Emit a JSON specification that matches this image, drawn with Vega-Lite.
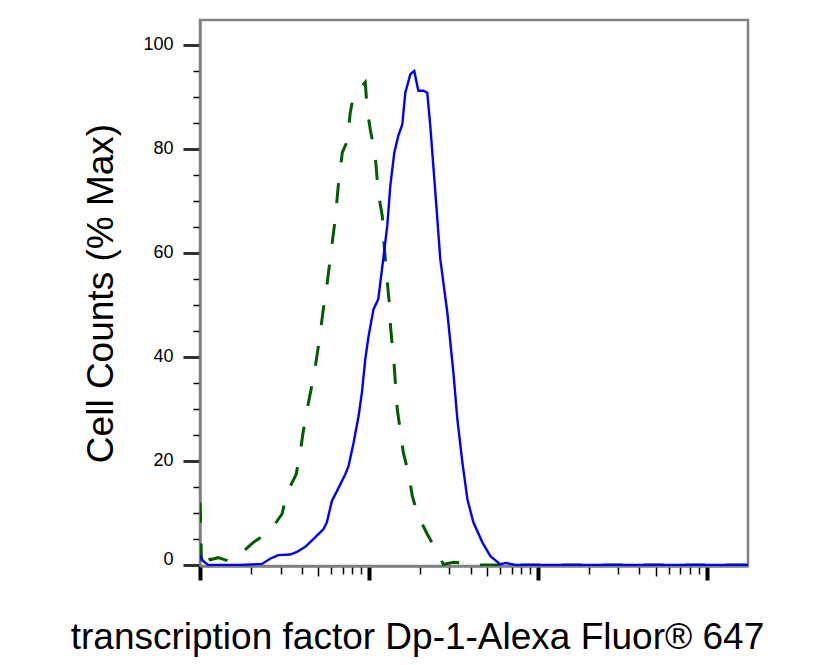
{
  "$schema": "https://vega.github.io/schema/vega-lite/v6.json",
  "width": 548,
  "height": 546,
  "autosize": {"type": "none"},
  "padding": {"left": 200, "top": 20, "right": 76, "bottom": 99},
  "background": "white",
  "config": {
    "font": "Liberation Sans",
    "view": {"stroke": "#808080", "strokeWidth": 2.5},
    "axis": {
      "grid": false,
      "domainColor": "#808080",
      "domainWidth": 2.5,
      "titleFontWeight": "normal",
      "titleColor": "black",
      "titleFont": "Liberation Sans",
      "labelFont": "Liberation Sans",
      "labelColor": "black"
    }
  },
  "datasets": {
    "isotype": [
      {"x": 100, "y": 12}, {"x": 101, "y": 7}, {"x": 102, "y": 0.8}, {"x": 105.6, "y": 3.2},
      {"x": 110, "y": 2}, {"x": 115, "y": 1.0}, {"x": 128, "y": 1.4}, {"x": 147, "y": 0.8},
      {"x": 168, "y": 1.7}, {"x": 206, "y": 4.3}, {"x": 260, "y": 6.5}, {"x": 306, "y": 9.8},
      {"x": 328, "y": 13.9}, {"x": 371, "y": 17.4}, {"x": 392, "y": 21.6}, {"x": 408, "y": 25.5},
      {"x": 431, "y": 29.9}, {"x": 455, "y": 33.8}, {"x": 481, "y": 38}, {"x": 501, "y": 41.8},
      {"x": 522, "y": 46}, {"x": 539, "y": 49.5}, {"x": 567, "y": 54.3}, {"x": 607, "y": 62},
      {"x": 632, "y": 66.5}, {"x": 659, "y": 72.9}, {"x": 696, "y": 79.3}, {"x": 745, "y": 81.5},
      {"x": 776, "y": 87}, {"x": 808, "y": 89.9}, {"x": 865, "y": 91.2}, {"x": 952, "y": 92.8},
      {"x": 978, "y": 87.6}, {"x": 1019, "y": 83.8}, {"x": 1091, "y": 78.7}, {"x": 1137, "y": 71.6},
      {"x": 1201, "y": 67.1}, {"x": 1226, "y": 62.3}, {"x": 1252, "y": 58.8}, {"x": 1286, "y": 54.3},
      {"x": 1321, "y": 50.5}, {"x": 1340, "y": 46.3}, {"x": 1377, "y": 42.1}, {"x": 1415, "y": 38},
      {"x": 1444, "y": 33.8}, {"x": 1474, "y": 29.9}, {"x": 1536, "y": 25.8}, {"x": 1600, "y": 21.6},
      {"x": 1713, "y": 17.8}, {"x": 1809, "y": 13.3}, {"x": 1937, "y": 9.8}, {"x": 2220, "y": 5.9},
      {"x": 2545, "y": 2.4}, {"x": 2763, "y": 0.1}, {"x": 3168, "y": 0.5}, {"x": 3630, "y": 0.4},
      {"x": 4159, "y": 0}, {"x": 20000, "y": 0}, {"x": 100000, "y": 0}, {"x": 176000, "y": 0}
    ],
    "stained": [
      {"x": 100, "y": 1.8}, {"x": 104, "y": 0.8}, {"x": 111.5, "y": 0}, {"x": 173, "y": 0},
      {"x": 233, "y": 0.2}, {"x": 260, "y": 1.2}, {"x": 291, "y": 1.9}, {"x": 342, "y": 2.0},
      {"x": 375, "y": 2.5}, {"x": 420, "y": 3.5}, {"x": 481, "y": 5.3}, {"x": 539, "y": 6.9},
      {"x": 564, "y": 8.2}, {"x": 604, "y": 12.3}, {"x": 647, "y": 14.2}, {"x": 724, "y": 17.4},
      {"x": 758, "y": 19}, {"x": 812, "y": 23.5}, {"x": 869, "y": 28.6}, {"x": 910, "y": 33.2},
      {"x": 952, "y": 39.5}, {"x": 996, "y": 44}, {"x": 1066, "y": 49.2}, {"x": 1137, "y": 51.1},
      {"x": 1217, "y": 58.8}, {"x": 1285, "y": 65.2}, {"x": 1340, "y": 72.9}, {"x": 1415, "y": 79.3},
      {"x": 1493, "y": 82.5}, {"x": 1578, "y": 84.7}, {"x": 1644, "y": 90.8}, {"x": 1762, "y": 94.4},
      {"x": 1858, "y": 95}, {"x": 1963, "y": 91.2}, {"x": 2103, "y": 91.2}, {"x": 2218, "y": 90.8},
      {"x": 2312, "y": 84.4}, {"x": 2477, "y": 71.6}, {"x": 2649, "y": 58.8}, {"x": 2917, "y": 48.5},
      {"x": 3168, "y": 37}, {"x": 3344, "y": 28}, {"x": 3581, "y": 19.7}, {"x": 3837, "y": 12.6},
      {"x": 4159, "y": 8.2}, {"x": 4709, "y": 4.3}, {"x": 5248, "y": 1.7}, {"x": 6012, "y": 0.1},
      {"x": 6440, "y": 0.4}, {"x": 7380, "y": 0}, {"x": 20000, "y": 0}, {"x": 100000, "y": 0},
      {"x": 176000, "y": 0}
    ]
  },
  "encoding": {
    "x": {
      "field": "x",
      "type": "quantitative",
      "scale": {"type": "log", "domain": [100, 176000], "nice": false},
      "axis": {
        "values": [100, 200, 300, 400, 500, 600, 700, 800, 900, 1000, 2000, 3000, 4000, 5000, 6000, 7000, 8000, 9000, 10000, 20000, 30000, 40000, 50000, 60000, 70000, 80000, 90000, 100000],
        "labels": false,
        "title": "transcription factor Dp-1-Alexa Fluor® 647",
        "titleFontSize": 37,
        "titlePadding": 37,
        "titleX": 217,
        "titleAlign": "center",
        "tickColor": "black",
        "tickSize": {"condition": [{"test": "indexof([100,1000,10000,100000], datum.value) >= 0", "value": 14}, {"test": "indexof([500,5000,50000], datum.value) >= 0", "value": 10}], "value": 8},
        "tickWidth": {"condition": {"test": "indexof([100,1000,10000,100000], datum.value) >= 0", "value": 4}, "value": 1.5}
      }
    },
    "y": {
      "field": "y",
      "type": "quantitative",
      "scale": {"domain": [-0.2, 104.8], "nice": false, "zero": false},
      "axis": {
        "values": [0, 5, 10, 15, 20, 25, 30, 35, 40, 45, 50, 55, 60, 65, 70, 75, 80, 85, 90, 95, 100],
        "title": "Cell Counts (% Max)",
        "titleFontSize": 37,
        "titlePadding": 22,
        "labelFontSize": 18,
        "labelPadding": 10,
        "labelOverlap": false,
        "labelFlush": false,
        "labelExpr": "datum.value % 20 === 0 ? datum.label : ''",
        "labelBaseline": {"condition": {"test": "datum.value === 0", "value": "alphabetic"}, "value": "middle"},
        "tickSize": {"condition": {"test": "datum.value % 20 === 0", "value": 17}, "value": 7},
        "tickWidth": {"condition": {"test": "datum.value % 20 === 0", "value": 3}, "value": 1.5},
        "tickColor": {"condition": {"test": "datum.value % 20 === 0", "value": "#333333"}, "value": "black"}
      }
    }
  },
  "layer": [
    {
      "data": {"name": "isotype"},
      "mark": {"type": "line", "color": "#005c00", "strokeWidth": 3, "strokeDash": [20, 21], "clip": true}
    },
    {
      "data": {"name": "stained"},
      "mark": {"type": "line", "color": "#0000ff", "strokeWidth": 2.4, "clip": true}
    }
  ]
}
